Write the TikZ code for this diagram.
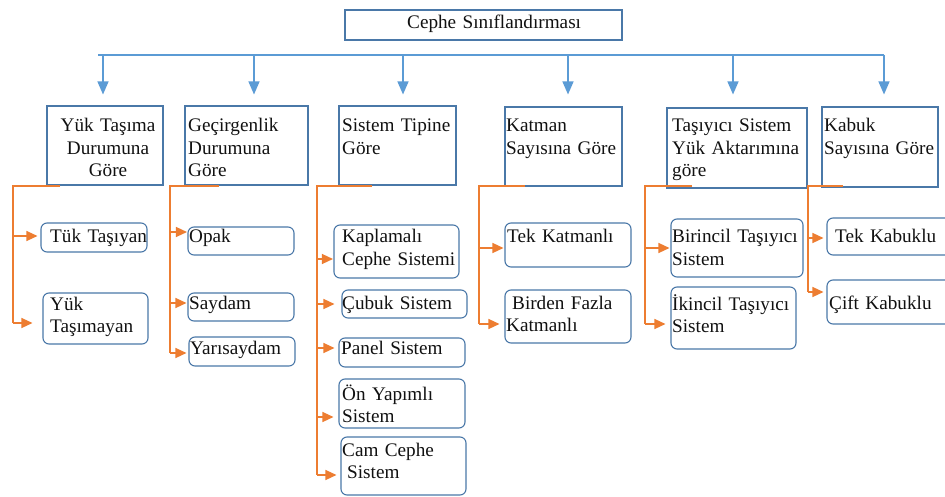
\documentclass[tikz,border=0pt]{standalone}
\usepackage{fontspec}
\setmainfont{Liberation Serif}
\usetikzlibrary{arrows.meta}
\definecolor{boxblue}{HTML}{4A78A8}
\definecolor{linkblue}{HTML}{5B9BD5}
\definecolor{branch}{HTML}{ED7D31}
\definecolor{ink}{HTML}{111111}
\tikzset{
  catbox/.style={draw=boxblue, line width=1.1pt, rectangle, inner sep=0pt},
  leafbox/.style={draw=boxblue, line width=1.1pt, rectangle, rounded corners=6pt, inner sep=0pt},
  txt/.style={font=\fontsize{19.2}{22.5}\selectfont, inner sep=0pt, text=ink,
              anchor=base west, align=left, text width=145pt},
  busline/.style={draw=linkblue, line width=1.3pt},
  busarrow/.style={busline, -{Triangle[length=13pt,width=11pt]}},
  trunk/.style={draw=branch, line width=1.3pt},
  twig/.style={trunk, -{Triangle[length=11pt,width=10pt]}},
}
% arrow from a trunk line to a leaf box: trunk, leaf, end name, vertical offset, gap
\newcommand\twigto[5]{%
  \coordinate (#3) at ([yshift=#4pt]#2.west);
  \draw[twig, shorten >=#5pt] (#3 -| #1) -- (#3);}
\begin{document}
\begin{tikzpicture}[x=1pt, y=-1pt]
\clip (0,0) rectangle (945,497);
\fill[white] (0,0) rectangle (945,497);

% root
\node[catbox, minimum width=277pt, minimum height=30pt] (root) at (483.5,25) {};
\node[txt, text width=260pt] (roott) at (407,29) {Cephe Sınıflandırması};

% categories
\node[catbox, minimum width=116pt, minimum height=79pt] (c1) at (105,145.5) {};
\node[txt, align=center, text width=120pt, anchor=base] (c1t) at (108,132) {Yük Taşıma\\Durumuna\\Göre};
\node[catbox, minimum width=123pt, minimum height=79pt] (c2) at (246.5,145.5) {};
\node[txt] (c2t) at (188,132) {Geçirgenlik\\Durumuna\\Göre};
\node[catbox, minimum width=117pt, minimum height=79pt] (c3) at (397.5,145.5) {};
\node[txt] (c3t) at (342,132) {Sistem Tipine\\Göre};
\node[catbox, minimum width=117pt, minimum height=79pt] (c4) at (563.5,146.5) {};
\node[txt] (c4t) at (506,132) {Katman\\Sayısına Göre};
\node[catbox, minimum width=140pt, minimum height=80pt] (c5) at (737,148) {};
\node[txt] (c5t) at (672,132) {Taşıyıcı Sistem\\Yük Aktarımına\\göre};
\node[catbox, minimum width=116pt, minimum height=80pt] (c6) at (880,147) {};
\node[txt] (c6t) at (824,132) {Kabuk\\Sayısına Göre};

% bus from the root to the categories
\coordinate (busL) at (98,55);
\coordinate (busR) at (884,55);
\draw[busline] (busL) -- (busR);
\coordinate (a1) at (103,55);
\coordinate (a2) at (254,55);
\coordinate (a3) at (403,55);
\coordinate (a4) at (568,55);
\coordinate (a5) at (733,55);
\coordinate (a6) at (884,55);
\draw[busarrow, shorten >=11pt] (a1) -- (a1 |- c1.north);
\draw[busarrow, shorten >=11pt] (a2) -- (a2 |- c2.north);
\draw[busarrow, shorten >=11pt] (a3) -- (a3 |- c3.north);
\draw[busarrow, shorten >=12pt] (a4) -- (a4 |- c4.north);
\draw[busarrow, shorten >=13pt] (a5) -- (a5 |- c5.north);
\draw[busarrow, shorten >=12pt] (a6) -- (a6 |- c6.north);

% leaves: load bearing
\node[leafbox, minimum width=106pt, minimum height=29pt] (l11) at (94,237.5) {};
\node[txt] (l11t) at (50,243) {Tük Taşıyan};
\node[leafbox, minimum width=105pt, minimum height=51pt] (l12) at (95.5,318.5) {};
\node[txt] (l12t) at (50,310) {Yük\\Taşımayan};

% leaves: permeability
\node[leafbox, minimum width=106pt, minimum height=28pt] (l21) at (241,241) {};
\node[txt] (l21t) at (189,243) {Opak};
\node[leafbox, minimum width=106pt, minimum height=28pt] (l22) at (241,307) {};
\node[txt] (l22t) at (189,309) {Saydam};
\node[leafbox, minimum width=106pt, minimum height=29pt] (l23) at (242,351.5) {};
\node[txt] (l23t) at (190,354) {Yarısaydam};

% leaves: system type
\node[leafbox, minimum width=125pt, minimum height=53pt] (l31) at (396.5,251.5) {};
\node[txt] (l31t) at (342,243) {Kaplamalı\\Cephe Sistemi};
\node[leafbox, minimum width=125pt, minimum height=28pt] (l32) at (404.5,304) {};
\node[txt] (l32t) at (342,309) {Çubuk Sistem};
\node[leafbox, minimum width=126pt, minimum height=29pt] (l33) at (402,352.5) {};
\node[txt] (l33t) at (341,354) {Panel Sistem};
\node[leafbox, minimum width=126pt, minimum height=49pt] (l34) at (402,403.5) {};
\node[txt] (l34t) at (342,400) {Ön Yapımlı\\Sistem};
\node[leafbox, minimum width=125pt, minimum height=58pt] (l35) at (403.5,466) {};
\node[txt] (l35t) at (342,456) {Cam Cephe\\\hspace*{5pt}Sistem};

% leaves: number of layers
\node[leafbox, minimum width=126pt, minimum height=44pt] (l41) at (568,245) {};
\node[txt] (l41t) at (507,243) {Tek Katmanlı};
\node[leafbox, minimum width=126pt, minimum height=53pt] (l42) at (568,316.5) {};
\node[txt] (l42t) at (506,309) {\hspace*{6pt}Birden Fazla\\Katmanlı};

% leaves: load transfer
\node[leafbox, minimum width=132pt, minimum height=58pt] (l51) at (737,248) {};
\node[txt] (l51t) at (672,243) {Birincil Taşıyıcı\\Sistem};
\node[leafbox, minimum width=125pt, minimum height=62pt] (l52) at (733.5,318) {};
\node[txt] (l52t) at (672,310) {İkincil Taşıyıcı\\Sistem};

% leaves: number of shells
\node[leafbox, minimum width=133pt, minimum height=37pt] (l61) at (893.5,236.5) {};
\node[txt] (l61t) at (835,243) {Tek Kabuklu};
\node[leafbox, minimum width=133pt, minimum height=44pt] (l62) at (893.5,302) {};
\node[txt] (l62t) at (829,309) {Çift Kabuklu};

% orange branches
\coordinate (t1) at (13,186);  \coordinate (h1) at (60,186);
\coordinate (t2) at (170,186); \coordinate (h2) at (219,186);
\coordinate (t3) at (317,186); \coordinate (h3) at (372,186);
\coordinate (t4) at (479,186); \coordinate (h4) at (525,186);
\coordinate (t5) at (645,186); \coordinate (h5) at (692,186);
\coordinate (t6) at (808,186); \coordinate (h6) at (843,186);

\twigto{t1}{l11}{e11}{1.5}{3}
\twigto{t1}{l12}{e12}{-4.5}{10}
\twigto{t2}{l21}{e21}{9}{0.5}
\twigto{t2}{l22}{e22}{4}{1}
\twigto{t2}{l23}{e23}{-1.5}{2}
\twigto{t3}{l31}{e31}{-7.5}{0.5}
\twigto{t3}{l32}{e32}{0}{7}
\twigto{t3}{l33}{e33}{4.5}{4}
\twigto{t3}{l34}{e34}{-13.5}{5}
\twigto{t3}{l35}{e35}{-9}{4}
\twigto{t4}{l41}{e41}{-3}{1}
\twigto{t4}{l42}{e42}{-7.5}{5}
\twigto{t5}{l51}{e51}{0}{1}
\twigto{t5}{l52}{e52}{-6}{5}
\twigto{t6}{l61}{e61}{-1.5}{3}
\twigto{t6}{l62}{e62}{10}{3}

\draw[trunk] (h1) -- (t1) -- (e12 -| t1);
\draw[trunk] (h2) -- (t2) -- (e23 -| t2);
\draw[trunk] (h3) -- (t3) -- (e35 -| t3);
\draw[trunk] (h4) -- (t4) -- (e42 -| t4);
\draw[trunk] (h5) -- (t5) -- (e52 -| t5);
\draw[trunk] (h6) -- (t6) -- (e62 -| t6);
\end{tikzpicture}
\end{document}
